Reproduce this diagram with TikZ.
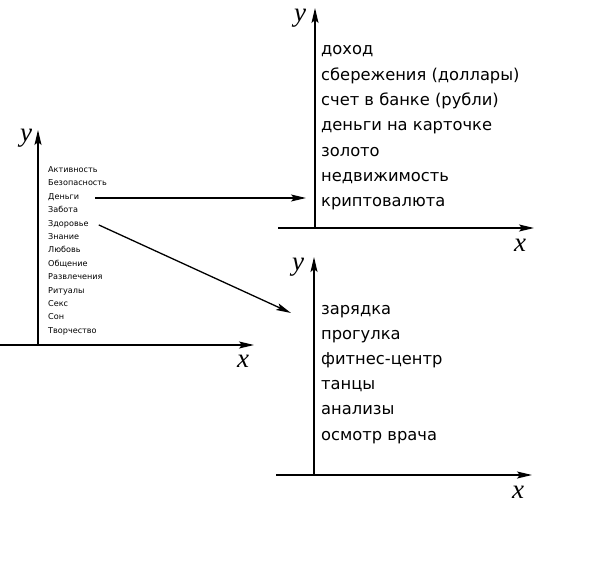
\documentclass[tikz,border=0pt]{standalone}
\usepackage{fontspec}
\newfontfamily\listfont{DejaVu Sans}
\newfontfamily\axfont{Liberation Serif}
\usetikzlibrary{arrows.meta}
\begin{document}
\begin{tikzpicture}[x=1pt,y=-1pt,
  axis/.style={line width=1.6pt,-{Stealth[length=15pt,width=7pt,inset=3pt]}},
  conn/.style={line width=1.3pt,-{Stealth[length=15pt,width=7pt,inset=3pt]}},
  axlabel/.style={font=\axfont\itshape\fontsize{27}{27}\selectfont,inner sep=0pt},
  smallitem/.style={font=\listfont\fontsize{8.1}{10}\selectfont,anchor=base west,inner sep=0pt},
  bigitem/.style={font=\listfont\fontsize{16.3}{20}\selectfont,anchor=base west,inner sep=0pt}]
\useasboundingbox (0,0) rectangle (591,578);
% left chart
\coordinate (L0) at (0,345);
\coordinate (Lx) at (254,345);
\coordinate (Lb) at (38,345);
\coordinate (Ly) at (38,130);
\draw[axis] (L0) -- (Lx);
\draw[axis] (Lb) -- (Ly);
\node[axlabel] (Lyl) at (26,138) {y};
\node[axlabel] (Lxl) at (243,361) {x};
\foreach \t [count=\i] in {Активность,Безопасность,Деньги,Забота,Здоровье,Знание,Любовь,Общение,Развлечения,Ритуалы,Секс,Сон,Творчество}
  \node[smallitem] (s\i) at (48,{172.5+(\i-1)*13.4}) {\t};
% top right chart
\coordinate (T0) at (278,228);
\coordinate (Tx) at (534,228);
\coordinate (Tb) at (315,228);
\coordinate (Ty) at (315,8);
\draw[axis] (T0) -- (Tx);
\draw[axis] (Tb) -- (Ty);
\node[axlabel] (Tyl) at (300,18) {y};
\node[axlabel] (Txl) at (520,245) {x};
\foreach \t [count=\i] in {доход,сбережения (доллары),счет в банке (рубли),деньги на карточке,золото,недвижимость,криптовалюта}
  \node[bigitem] (t\i) at (321,{55+(\i-1)*25.3}) {\t};
% bottom right chart
\coordinate (B0) at (276,475);
\coordinate (Bx) at (532,475);
\coordinate (Bb) at (314,475);
\coordinate (By) at (314,257);
\draw[axis] (B0) -- (Bx);
\draw[axis] (Bb) -- (By);
\node[axlabel] (Byl) at (298,267) {y};
\node[axlabel] (Bxl) at (518,492) {x};
\foreach \t [count=\i] in {зарядка,прогулка,фитнес-центр,танцы,анализы,осмотр врача}
  \node[bigitem] (b\i) at (321,{314+(\i-1)*25.2}) {\t};
% connectors
\coordinate (A1e) at (306,198);
\draw[conn] ([xshift=16pt]A1e -| s3.east) -- (A1e);
\coordinate (A2e) at (291,313);
\draw[conn] ([xshift=10pt,yshift=-1pt]s5.east) -- (A2e);
\end{tikzpicture}
\end{document}
